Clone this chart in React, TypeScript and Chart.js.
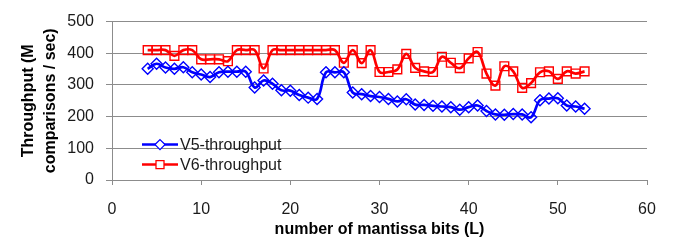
import React, { useEffect, useRef } from 'react';
import { Chart, registerables } from 'chart.js';

Chart.register(...registerables);

// number of mantissa bits (L)
const bits = [
  4, 5, 6, 7, 8, 9, 10, 11, 12, 13, 14, 15, 16, 17, 18, 19, 20, 21, 22, 23, 24, 25, 26, 27, 28,
  29, 30, 31, 32, 33, 34, 35, 36, 37, 38, 39, 40, 41, 42, 43, 44, 45, 46, 47, 48, 49, 50, 51, 52, 53,
];

// V5 throughput (M comparisons / sec)
const v5 = [
  351, 367, 355, 351, 356, 340, 333, 325, 340, 342, 342, 342, 292, 314, 304, 283, 282, 268, 260, 256,
  340, 340, 340, 276, 271, 265, 262, 256, 248, 255, 238, 237, 234, 232, 230, 222, 230, 235, 218, 207,
  206, 208, 207, 198, 252, 257, 258, 235, 232, 225,
];

// V6 throughput (M comparisons / sec)
const v6 = [
  410, 410, 410, 392, 410, 410, 381, 381, 381, 375, 410, 410, 410, 352, 410, 410, 410, 410, 410, 410,
  410, 410, 370, 410, 369, 410, 341, 341, 349, 398, 354, 343, 341, 389, 370, 353, 384, 404, 336, 298,
  359, 343, 291, 306, 340, 343, 319, 343, 336, 343,
];

const seriesNames = ['V5-throughput', 'V6-throughput'];
const xTickValues = [0, 10, 20, 30, 40, 50, 60];
const yTickValues = [0, 100, 200, 300, 400, 500];
const xTitle = 'number of mantissa bits (L)';
const yTitle = ['Throughput (M', 'comparisons / sec)'];

const FONT = "'Liberation Sans', Arial, sans-serif";
const GRID = '#8c8c8c';

const insideLegend = {
  id: 'insideLegend',
  afterDatasetsDraw(chart: any) {
    const { ctx, chartArea } = chart;
    chart.data.datasets.forEach((ds: any, i: number) => {
      const y = chartArea.top + 123 + i * 20;
      const x0 = chartArea.left + 30;
      const x1 = chartArea.left + 66;
      const xm = (x0 + x1) / 2;
      ctx.save();
      ctx.strokeStyle = ds.borderColor;
      ctx.lineWidth = 2.5;
      ctx.beginPath();
      ctx.moveTo(x0, y);
      ctx.lineTo(x1, y);
      ctx.stroke();
      ctx.fillStyle = '#ffffff';
      ctx.lineWidth = 1.3;
      ctx.beginPath();
      if (ds.pointStyle === 'rectRot') {
        const r = 5;
        ctx.moveTo(xm, y - r);
        ctx.lineTo(xm + r, y);
        ctx.lineTo(xm, y + r);
        ctx.lineTo(xm - r, y);
        ctx.closePath();
      } else {
        const s = 4;
        ctx.rect(xm - s, y - s, 2 * s, 2 * s);
      }
      ctx.fill();
      ctx.stroke();
      ctx.fillStyle = '#1a1a1a';
      ctx.font = `16px ${FONT}`;
      ctx.textAlign = 'left';
      ctx.textBaseline = 'middle';
      ctx.fillText(ds.label, x1 + 2, y + 1);
      ctx.restore();
    });
  },
};

export default function App() {
  const ref = useRef<HTMLCanvasElement | null>(null);

  useEffect(() => {
    if (!ref.current) return;
    const chart = new Chart(ref.current, {
      type: 'line',
      data: {
        datasets: [
          {
            label: seriesNames[0],
            data: bits.map((b, i) => ({ x: b, y: v5[i] })),
            borderColor: '#0000ff',
            backgroundColor: 'rgba(0,0,0,0)',
            borderWidth: 2.7,
            pointStyle: 'rectRot',
            pointRadius: 5.5,
            pointBorderWidth: 1.4,
            pointBorderColor: '#0000ff',
            pointBackgroundColor: 'rgba(0,0,0,0)',
            tension: 0.4,
          },
          {
            label: seriesNames[1],
            data: bits.map((b, i) => ({ x: b, y: v6[i] })),
            borderColor: '#ff0000',
            backgroundColor: 'rgba(0,0,0,0)',
            borderWidth: 2.7,
            pointStyle: 'rect',
            pointRadius: 6.2,
            pointBorderWidth: 1.4,
            pointBorderColor: '#ff0000',
            pointBackgroundColor: 'rgba(0,0,0,0)',
            tension: 0.4,
          },
        ],
      },
      options: {
        animation: false,
        responsive: false,
        maintainAspectRatio: false,
        layout: { padding: { top: 10, right: 30, left: 0, bottom: 0 } },
        plugins: {
          legend: { display: false },
          tooltip: { enabled: false },
        },
        scales: {
          x: {
            type: 'linear',
            min: 0,
            max: 60,
            afterFit: (s: any) => {
              s.height = 64;
            },
            afterBuildTicks: (s: any) => {
              s.ticks = xTickValues.map((v) => ({ value: v }));
            },
            grid: {
              drawOnChartArea: false,
              drawTicks: true,
              tickLength: 5,
              color: GRID,
            },
            border: { color: GRID, width: 1 },
            ticks: {
              padding: 15,
              color: '#1a1a1a',
              font: { family: FONT, size: 16 },
              maxRotation: 0,
            },
            title: {
              display: true,
              text: xTitle,
              color: '#000',
              font: { family: FONT, size: 16, weight: 'bold' },
              padding: { top: 0, bottom: 5 },
            },
          },
          y: {
            type: 'linear',
            min: 0,
            max: 500,
            afterFit: (s: any) => {
              s.width = 112;
            },
            afterBuildTicks: (s: any) => {
              s.ticks = yTickValues.map((v) => ({ value: v }));
            },
            grid: {
              drawOnChartArea: true,
              drawTicks: true,
              tickLength: 6,
              color: GRID,
            },
            border: { color: GRID, width: 1 },
            ticks: {
              padding: 12,
              color: '#1a1a1a',
              font: { family: FONT, size: 16 },
            },
            title: {
              display: true,
              text: yTitle,
              color: '#000',
              font: { family: FONT, size: 16, weight: 'bold', lineHeight: 1.4 },
              padding: { top: 17, bottom: 0 },
            },
          },
        },
      },
      plugins: [insideLegend],
    });
    return () => chart.destroy();
  }, []);

  return (
    <div style={{ position: 'fixed', left: 0, top: 0, width: 677, height: 244, background: '#fff' }}>
      <canvas ref={ref} width={677} height={244} style={{ width: 677, height: 244, display: 'block' }} />
    </div>
  );
}
